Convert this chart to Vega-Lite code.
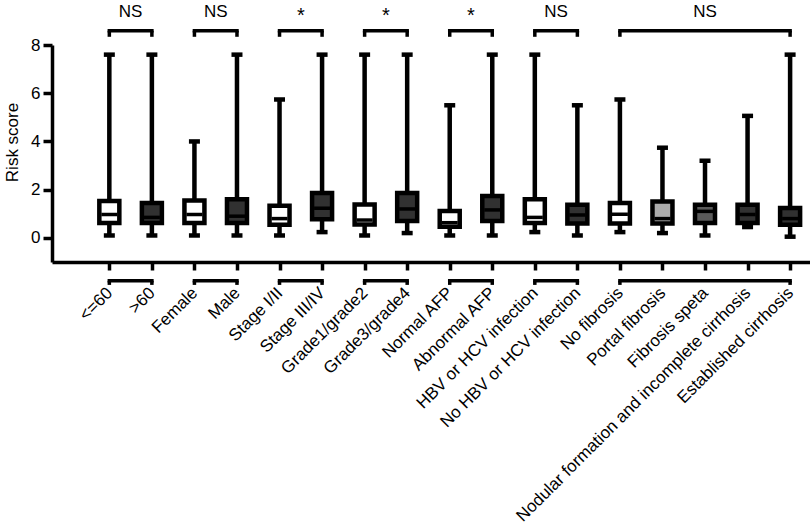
{
  "$schema": "https://vega.github.io/schema/vega-lite/v6.json",
  "autosize": {"type": "none"},
  "padding": {"left": 52, "top": 45, "right": 0, "bottom": 270},
  "width": 758,
  "height": 217,
  "background": "white",
  "config": {
    "view": {"stroke": null},
    "font": "Liberation Sans",
    "axis": {"domainColor": "black", "tickColor": "black", "labelColor": "black", "titleColor": "black", "grid": false}
  },
  "datasets": {
    "boxes": [
      {"idx": 1, "group": "<=60", "min": 0.1, "q1": 0.62, "med": 0.97, "q3": 1.53, "max": 7.6, "kind": "open"},
      {"idx": 2, "group": ">60", "min": 0.1, "q1": 0.62, "med": 0.85, "q3": 1.45, "max": 7.6, "kind": "filled"},
      {"idx": 3, "group": "Female", "min": 0.1, "q1": 0.62, "med": 0.97, "q3": 1.55, "max": 4.0, "kind": "open"},
      {"idx": 4, "group": "Male", "min": 0.1, "q1": 0.62, "med": 0.9, "q3": 1.6, "max": 7.6, "kind": "filled"},
      {"idx": 5, "group": "Stage I/II", "min": 0.1, "q1": 0.55, "med": 0.8, "q3": 1.33, "max": 5.74, "kind": "open"},
      {"idx": 6, "group": "Stage III/IV", "min": 0.24, "q1": 0.77, "med": 1.23, "q3": 1.86, "max": 7.6, "kind": "filled"},
      {"idx": 7, "group": "Grade1/grade2", "min": 0.1, "q1": 0.56, "med": 0.74, "q3": 1.38, "max": 7.6, "kind": "open"},
      {"idx": 8, "group": "Grade3/grade4", "min": 0.2, "q1": 0.7, "med": 1.2, "q3": 1.86, "max": 7.6, "kind": "filled"},
      {"idx": 9, "group": "Normal AFP", "min": 0.1, "q1": 0.46, "med": 0.63, "q3": 1.12, "max": 5.5, "kind": "open"},
      {"idx": 10, "group": "Abnormal AFP", "min": 0.1, "q1": 0.7, "med": 1.16, "q3": 1.74, "max": 7.6, "kind": "filled"},
      {"idx": 11, "group": "HBV or HCV infection", "min": 0.24, "q1": 0.62, "med": 0.85, "q3": 1.6, "max": 7.6, "kind": "open"},
      {"idx": 12, "group": "No HBV or HCV infection", "min": 0.1, "q1": 0.6, "med": 0.95, "q3": 1.37, "max": 5.5, "kind": "filled"},
      {"idx": 13, "group": "No fibrosis", "min": 0.24, "q1": 0.6, "med": 0.98, "q3": 1.45, "max": 5.74, "kind": "open"},
      {"idx": 14, "group": "Portal fibrosis", "min": 0.2, "q1": 0.6, "med": 0.8, "q3": 1.51, "max": 3.74, "kind": "light"},
      {"idx": 15, "group": "Fibrosis speta", "min": 0.1, "q1": 0.62, "med": 1.1, "q3": 1.37, "max": 3.2, "kind": "mid"},
      {"idx": 16, "group": "Nodular formation and incomplete cirrhosis", "min": 0.45, "q1": 0.62, "med": 0.97, "q3": 1.37, "max": 5.06, "kind": "filled"},
      {"idx": 17, "group": "Established cirrhosis", "min": 0.05, "q1": 0.54, "med": 0.8, "q3": 1.24, "max": 7.6, "kind": "filled"}
    ],
    "brackets": [
      {"a": 1, "b": 2, "mid": 1.5, "sig": "NS"},
      {"a": 3, "b": 4, "mid": 3.5, "sig": "NS"},
      {"a": 5, "b": 6, "mid": 5.5, "sig": "*"},
      {"a": 7, "b": 8, "mid": 7.5, "sig": "*"},
      {"a": 9, "b": 10, "mid": 9.5, "sig": "*"},
      {"a": 11, "b": 12, "mid": 11.5, "sig": "NS"},
      {"a": 13, "b": 17, "mid": 15, "sig": "NS"}
    ]
  },
  "layer": [
    {
      "data": {"name": "boxes"},
      "mark": {"type": "rule", "color": "black", "strokeWidth": 4.5},
      "encoding": {
        "x": {"field": "idx", "type": "quantitative",
          "scale": {"domain": [-0.23, 17.35], "nice": false, "zero": false},
          "axis": {
            "title": null,
            "values": [1,2,3,4,5,6,7,8,9,10,11,12,13,14,15,16,17],
            "labelExpr": "['', '<=60', '>60', 'Female', 'Male', 'Stage I/II', 'Stage III/IV', 'Grade1/grade2', 'Grade3/grade4', 'Normal AFP', 'Abnormal AFP', 'HBV or HCV infection', 'No HBV or HCV infection', 'No fibrosis', 'Portal fibrosis', 'Fibrosis speta', 'Nodular formation and incomplete cirrhosis', 'Established cirrhosis'][datum.value]",
            "labelAngle": -45,
            "labelAlign": "right",
            "labelBaseline": "middle",
            "labelFontSize": 17,
            "labelPadding": 20,
            "labelLimit": 500,
            "labelOverlap": false,
            "labelBound": false,
            "labelFlush": false,
            "tickSize": 8,
            "tickWidth": 3.5,
            "domainWidth": 3.5
          }
        },
        "y": {"field": "min", "type": "quantitative",
          "scale": {"domain": [-1, 8], "nice": false, "zero": false},
          "axis": {
            "title": "Risk score",
            "values": [0, 2, 4, 6, 8],
            "labelFontSize": 17,
            "labelPadding": 3,
            "tickSize": 9,
            "tickWidth": 3.5,
            "domainWidth": 3.5,
            "titleFontSize": 17,
            "titleFontWeight": "normal",
            "titleAngle": -90,
            "titleX": -40,
            "titleY": 97,
            "titleAlign": "center",
            "titleBaseline": "middle"
          }
        },
        "y2": {"field": "max"}
      }
    },
    {
      "data": {"name": "boxes"},
      "mark": {"type": "bar", "size": 20, "stroke": "black", "strokeWidth": 4.5},
      "encoding": {
        "x": {"field": "idx", "type": "quantitative"},
        "y": {"field": "q1", "type": "quantitative"},
        "y2": {"field": "q3"},
        "fill": {"field": "kind", "type": "nominal", "legend": null,
          "scale": {"domain": ["open", "filled", "light", "mid"], "range": ["#ffffff", "#313131", "#acacac", "#5a5a5a"]}}
      }
    },
    {
      "data": {"name": "boxes"},
      "mark": {"type": "tick", "orient": "horizontal", "color": "black", "size": 16, "thickness": 3.5, "opacity": 1},
      "encoding": {
        "x": {"field": "idx", "type": "quantitative"},
        "y": {"field": "med", "type": "quantitative"}
      }
    },
    {
      "data": {"name": "boxes"},
      "mark": {"type": "tick", "orient": "horizontal", "color": "black", "size": 11, "thickness": 4.5, "opacity": 1},
      "encoding": {
        "x": {"field": "idx", "type": "quantitative"},
        "y": {"field": "min", "type": "quantitative"}
      }
    },
    {
      "data": {"name": "boxes"},
      "mark": {"type": "tick", "orient": "horizontal", "color": "black", "size": 11, "thickness": 4.5, "opacity": 1},
      "encoding": {
        "x": {"field": "idx", "type": "quantitative"},
        "y": {"field": "max", "type": "quantitative"}
      }
    },
    {
      "data": {"name": "brackets"},
      "mark": {"type": "rule", "color": "black", "strokeWidth": 3.5, "strokeCap": "square", "clip": false},
      "encoding": {
        "x": {"field": "a", "type": "quantitative"},
        "x2": {"field": "b"},
        "y": {"datum": 8.59}
      }
    },
    {
      "data": {"name": "brackets"},
      "mark": {"type": "rule", "color": "black", "strokeWidth": 3.5, "clip": false},
      "encoding": {
        "x": {"field": "a", "type": "quantitative"},
        "y": {"datum": 8.59},
        "y2": {"datum": 8.34}
      }
    },
    {
      "data": {"name": "brackets"},
      "mark": {"type": "rule", "color": "black", "strokeWidth": 3.5, "clip": false},
      "encoding": {
        "x": {"field": "b", "type": "quantitative"},
        "y": {"datum": 8.59},
        "y2": {"datum": 8.34}
      }
    },
    {
      "data": {"name": "brackets"},
      "mark": {"type": "rule", "color": "black", "strokeWidth": 3.5, "strokeCap": "square", "clip": false},
      "encoding": {
        "x": {"field": "a", "type": "quantitative"},
        "x2": {"field": "b"},
        "y": {"datum": -1.78}
      }
    },
    {
      "data": {"name": "brackets"},
      "mark": {"type": "rule", "color": "black", "strokeWidth": 3.5, "clip": false},
      "encoding": {
        "x": {"field": "a", "type": "quantitative"},
        "y": {"datum": -1.78},
        "y2": {"datum": -1.95}
      }
    },
    {
      "data": {"name": "brackets"},
      "mark": {"type": "rule", "color": "black", "strokeWidth": 3.5, "clip": false},
      "encoding": {
        "x": {"field": "b", "type": "quantitative"},
        "y": {"datum": -1.78},
        "y2": {"datum": -1.95}
      }
    },
    {
      "data": {"name": "brackets"},
      "transform": [{"filter": "datum.sig == 'NS'"}],
      "mark": {"type": "text", "color": "black", "fontSize": 17, "baseline": "middle", "align": "center", "clip": false},
      "encoding": {
        "x": {"field": "mid", "type": "quantitative"},
        "y": {"datum": 9.36},
        "text": {"field": "sig"}
      }
    },
    {
      "data": {"name": "brackets"},
      "transform": [{"filter": "datum.sig == '*'"}],
      "mark": {"type": "text", "color": "black", "fontSize": 20, "baseline": "middle", "align": "center", "clip": false},
      "encoding": {
        "x": {"field": "mid", "type": "quantitative"},
        "y": {"datum": 9.2},
        "text": {"field": "sig"}
      }
    }
  ]
}
